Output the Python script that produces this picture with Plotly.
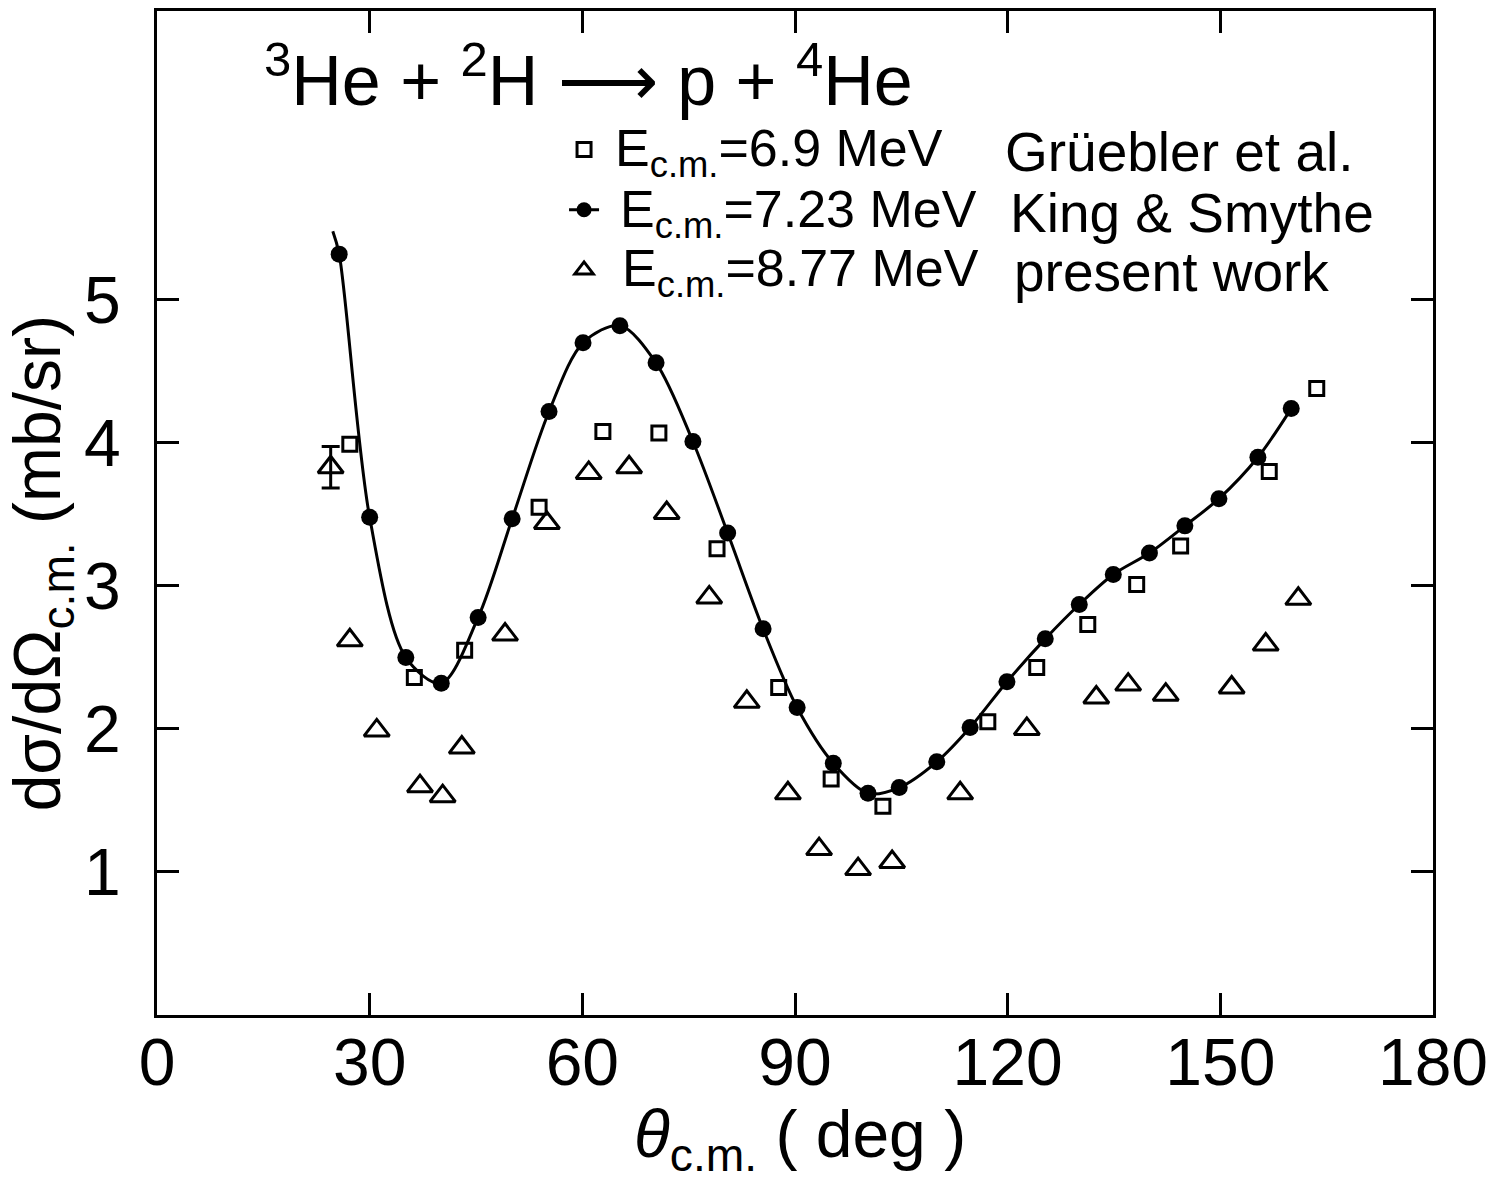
import plotly.graph_objects as go

# King & Smythe, E_cm = 7.23 MeV (filled circles)
ks_theta = [25.7, 30.0, 35.1, 40.1, 45.3, 50.1, 55.3, 60.1, 65.3, 70.4, 75.6, 80.5,
            85.5, 90.3, 95.4, 100.3, 104.7, 110.0, 114.7, 119.9, 125.3, 130.1, 134.9,
            140.0, 145.0, 149.8, 155.3, 160.0]
ks_sigma = [5.32, 3.48, 2.50, 2.32, 2.78, 3.47, 4.22, 4.70, 4.82, 4.56, 4.01, 3.37,
            2.70, 2.15, 1.76, 1.55, 1.59, 1.77, 2.01, 2.33, 2.63, 2.87, 3.08,
            3.23, 3.42, 3.61, 3.90, 4.24]

# smooth curve drawn through the King & Smythe points (starts slightly above first point)
curve_start_theta = [24.8]
curve_start_sigma = [5.48]

# Grüebler et al., E_cm = 6.9 MeV (open squares)
gr_theta = [27.2, 36.3, 43.4, 53.9, 62.9, 70.8, 79.0, 87.7, 95.1, 102.4, 117.2, 124.1,
            131.3, 138.2, 144.4, 156.9, 163.6]
gr_sigma = [3.99, 2.36, 2.55, 3.55, 4.08, 4.07, 3.26, 2.29, 1.65, 1.46, 2.05, 2.43,
            2.73, 3.01, 3.28, 3.80, 4.38]

# present work, E_cm = 8.77 MeV (open triangles)
pw_theta = [24.5, 27.2, 31.0, 37.1, 40.3, 43.0, 49.1, 55.0, 60.9, 66.6, 71.9, 77.9,
            83.2, 89.0, 93.4, 98.9, 103.7, 113.3, 122.7, 132.5, 137.0, 142.3, 151.6,
            156.4, 161.0]
pw_sigma = [3.83, 2.62, 1.99, 1.60, 1.53, 1.87, 2.66, 3.44, 3.79, 3.83, 3.51, 2.92,
            2.19, 1.55, 1.16, 1.02, 1.07, 1.55, 2.00, 2.22, 2.31, 2.24, 2.29,
            2.59, 2.91]
pw_err_first = 0.145  # error bar shown on the first point

x_ticks = [0, 30, 60, 90, 120, 150, 180]
y_ticks = [1, 2, 3, 4, 5]

legend_energy = ["E<sub>c.m.</sub>=6.9 MeV", "E<sub>c.m.</sub>=7.23 MeV", "E<sub>c.m.</sub>=8.77 MeV"]
legend_source = ["Grüebler et al.", "King & Smythe", "present work"]

FONT = "Liberation Sans, Arial, sans-serif"

fig = go.Figure()

# smooth curve
fig.add_trace(go.Scatter(
    x=curve_start_theta + ks_theta, y=curve_start_sigma + ks_sigma,
    mode="lines", line=dict(color="black", width=3, shape="spline", smoothing=0.9),
    showlegend=False, hoverinfo="skip"))

# squares
fig.add_trace(go.Scatter(
    x=gr_theta, y=gr_sigma, mode="markers",
    marker=dict(symbol="square-open", size=14, color="black", line=dict(width=3, color="black")),
    name="\u00a0", legendrank=1))

# circles
fig.add_trace(go.Scatter(
    x=ks_theta, y=ks_sigma, mode="markers",
    marker=dict(symbol="circle", size=17, color="black"),
    showlegend=False))

# legend key for King & Smythe (line + marker)
fig.add_trace(go.Scatter(
    x=[None], y=[None], mode="lines+markers",
    line=dict(color="black", width=3),
    marker=dict(symbol="circle", size=15, color="black"),
    name="\u00a0", legendrank=2))

# triangles
fig.add_trace(go.Scatter(
    x=pw_theta, y=pw_sigma, mode="markers",
    marker=dict(symbol="triangle-up-open", size=22, color="black", line=dict(width=3, color="black")),
    name="\u00a0", legendrank=3))

# error bar on the first triangle
fig.add_trace(go.Scatter(
    x=pw_theta[:1], y=pw_sigma[:1], mode="markers",
    marker=dict(size=1, color="rgba(0,0,0,0)"),
    error_y=dict(type="data", array=[pw_err_first], visible=True, color="black",
                 thickness=3, width=9),
    showlegend=False, hoverinfo="skip"))

axis_common = dict(
    showline=True, linecolor="black", linewidth=3, mirror="ticks",
    ticks="inside", ticklen=22, tickwidth=3, tickcolor="black",
    showgrid=False, zeroline=False,
    tickfont=dict(family=FONT, size=66, color="black"),
)

fig.update_xaxes(range=[0, 180], tickvals=x_ticks, ticktext=[str(v) for v in x_ticks],
                 ticklabelstandoff=-12, **axis_common)
fig.update_yaxes(range=[0, 7.02], tickvals=y_ticks, ticktext=[str(v) for v in y_ticks],
                 ticklabelstandoff=20, **axis_common)

# legend text rows (pixel-tuned positions in paper coordinates)
row_y = [0.860, 0.799, 0.740]
row_x1 = [0.3574, 0.3613, 0.3628]
row_x2 = [0.663, 0.667, 0.670]
annotations = []
for i in range(3):
    annotations.append(dict(text=legend_energy[i], x=row_x1[i], y=row_y[i],
                            xref="paper", yref="paper", xanchor="left", yanchor="middle",
                            showarrow=False, font=dict(family=FONT, size=52, color="black")))
    annotations.append(dict(text=legend_source[i], x=row_x2[i], y=row_y[i],
                            xref="paper", yref="paper", xanchor="left", yanchor="middle",
                            showarrow=False, font=dict(family=FONT, size=55, color="black")))

annotations += [
    dict(text="<sup>3</sup>He + <sup>2</sup>H \u27f6 p + <sup>4</sup>He",
         x=0.338, y=0.935, xref="paper", yref="paper", xanchor="center", yanchor="middle",
         showarrow=False, font=dict(family=FONT, size=70, color="black")),
    dict(text="d\u03c3/d\u03a9<sub>c.m.</sub> (mb/sr)",
         x=-0.090, y=0.45, xref="paper", yref="paper", xanchor="center", yanchor="middle",
         showarrow=False, textangle=-90, font=dict(family=FONT, size=66, color="black")),
    dict(text="<i>\u03b8</i><sub>c.m.</sub> ( deg )",
         x=0.504, y=-0.124, xref="paper", yref="paper", xanchor="center", yanchor="middle",
         showarrow=False, font=dict(family=FONT, size=66, color="black")),
]

fig.update_layout(
    width=1511, height=1190,
    margin=dict(l=157, r=78, t=8, b=175),
    paper_bgcolor="white", plot_bgcolor="white",
    font=dict(family=FONT, color="black"),
    legend=dict(x=0.319, y=0.897, xanchor="left", yanchor="top",
                font=dict(family=FONT, size=44, color="black"),
                bgcolor="rgba(0,0,0,0)", itemwidth=30, tracegroupgap=0),
    annotations=annotations,
)

fig.write_html("out.html")
